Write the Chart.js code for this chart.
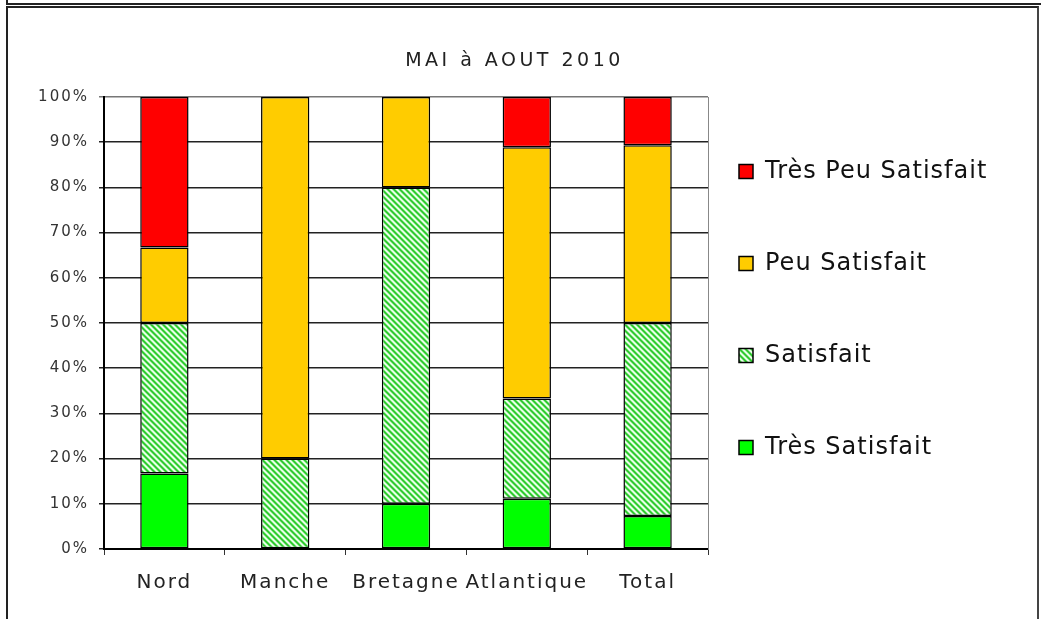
<!DOCTYPE html>
<html>
<head>
<meta charset="utf-8">
<script src="https://cdn.jsdelivr.net/npm/chart.js@4/dist/chart.umd.min.js"></script>
<style>
  html, body { margin: 0; padding: 0; background: #fff; overflow: hidden; }
  #strip { position: absolute; left: 6px; top: -20px; width: 1100px; height: 25px; box-sizing: border-box;
           border-left: 2px solid #222; border-bottom: 2px solid #222; }
  #frame { position: absolute; left: 6px; top: 6px; width: 1033px; height: 700px; box-sizing: border-box;
           border-left: 2px solid #222; border-top: 2px solid #222; border-right: 2px solid #444; }
  #wrap { position: absolute; left: 0; top: 0; width: 1041px; height: 619px; }
</style>
</head>
<body>
<div id="strip"></div>
<div id="frame"></div>
<div id="wrap"><canvas id="c"></canvas></div>
<script>
const chartTitle = 'MAI à AOUT 2010';
const categories = ['Nord', 'Manche', 'Bretagne', 'Atlantique', 'Total'];
const seriesNames = ['Très Satisfait', 'Satisfait', 'Peu Satisfait', 'Très Peu Satisfait'];
const tresSatisfait    = [16.7, 0, 10, 11.1, 7.3];
const satisfait        = [33.3, 20, 70, 22.2, 42.7];
const peuSatisfait     = [16.7, 80, 20, 55.6, 39.3];
const tresPeuSatisfait = [33.3, 0, 0, 11.1, 10.7];
const yTickLabels = ['0%', '10%', '20%', '30%', '40%', '50%', '60%', '70%', '80%', '90%', '100%'];

function stripePattern() {
  const c = document.createElement('canvas');
  c.width = 6; c.height = 6;
  const g = c.getContext('2d');
  const img = g.createImageData(6, 6);
  for (let y = 0; y < 6; y++) {
    for (let x = 0; x < 6; x++) {
      const d = (((x - y) % 6) + 6) % 6;
      let col;
      if (d === 0 || d === 1) col = [46, 204, 46];
      else if (d === 2 || d === 5) col = [140, 228, 140];
      else col = [232, 255, 232];
      const i = (y * 6 + x) * 4;
      img.data[i] = col[0]; img.data[i + 1] = col[1]; img.data[i + 2] = col[2]; img.data[i + 3] = 255;
    }
  }
  g.putImageData(img, 0, 0);
  return g.createPattern(c, 'repeat');
}

const LEGEND_X = 739;
const LEGEND_W = 333;
const spacingBySize = { 19: '3.5px', 20: '2px', 15: '2px', 24: '1px' };

const layoutFix = {
  id: 'layoutFix',
  beforeInit(chart) {
    const ctx = chart.ctx;
    const ft = ctx.fillText;
    ctx.fillText = function () {
      const m = /(\d+(?:\.\d+)?)px/.exec(this.font);
      const ls = m ? spacingBySize[Math.round(parseFloat(m[1]))] : null;
      try { this.letterSpacing = ls || '0px'; } catch (e) {}
      return ft.apply(this, arguments);
    };
  },
  beforeLayout(chart) {
    const lg = chart.legend;
    if (lg && !lg._wPatched) {
      const f = lg.fit;
      lg.fit = function () { f.call(this); this.width = LEGEND_W; };
      lg._wPatched = true;
    }
  },
  afterLayout(chart) {
    const lg = chart.legend;
    if (lg) {
      const pad = lg.options.labels.padding;
      lg.left = LEGEND_X - pad;
      lg.right = lg.left + lg.width;
    }
    const tb = chart.titleBlock;
    if (tb) { tb.left -= 6; tb.right -= 6; }
  }
};

const pat = stripePattern();
const FONT = '"DejaVu Sans", Verdana, sans-serif';

new Chart(document.getElementById('c'), {
  type: 'bar',
  data: {
    labels: categories,
    datasets: [
      { label: seriesNames[0], data: tresSatisfait, backgroundColor: '#00ff00' },
      { label: seriesNames[1], data: satisfait, backgroundColor: pat },
      { label: seriesNames[2], data: peuSatisfait, backgroundColor: '#ffcc00' },
      { label: seriesNames[3], data: tresPeuSatisfait, backgroundColor: '#ff0000' }
    ].map(d => Object.assign(d, { borderColor: '#000', borderWidth: 1.5, borderSkipped: false,
                                  categoryPercentage: 1, barPercentage: 0.4 }))
  },
  options: {
    responsive: true,
    maintainAspectRatio: false,
    animation: false,
    layout: { padding: 0 },
    scales: {
      x: {
        stacked: true,
        grid: { display: true, drawOnChartArea: false, drawTicks: true, tickLength: 6, offset: true, color: '#333', lineWidth: 1 },
        border: { display: true, color: '#000', width: 2 },
        ticks: { autoSkip: false, maxRotation: 0, minRotation: 0, padding: 16, color: '#222',
                 font: { family: FONT, size: 20 } },
        afterFit(s) { s.height = 70; }
      },
      y: {
        stacked: true,
        min: 0, max: 100,
        ticks: { stepSize: 10, padding: 10, color: '#333', font: { family: FONT, size: 15 },
                 callback: (v, i) => yTickLabels[i] },
        grid: { color: c => (c.tick && c.tick.value === 100) ? '#777' : '#222', lineWidth: 1.5, tickLength: 5 },
        border: { display: true, color: '#000', width: 2 },
        afterFit(s) { s.width = 104; }
      },
      yR: {
        position: 'right',
        min: 0, max: 100,
        ticks: { display: false },
        grid: { drawOnChartArea: false, drawTicks: false },
        border: { display: true, color: '#888', width: 1 },
        afterFit(s) { s.width = 0; }
      }
    },
    plugins: {
      tooltip: { enabled: false },
      title: {
        display: true,
        text: chartTitle,
        color: '#222',
        font: { family: FONT, size: 19, weight: 'normal', lineHeight: 1.2 },
        padding: { top: 50, bottom: 24.2 }
      },
      legend: {
        position: 'right',
        align: 'center',
        reverse: true,
        labels: {
          boxWidth: 14, boxHeight: 14, padding: 68, color: '#111',
          font: { family: FONT, size: 24 }
        }
      }
    }
  },
  plugins: [layoutFix]
});
</script>
</body>
</html>
